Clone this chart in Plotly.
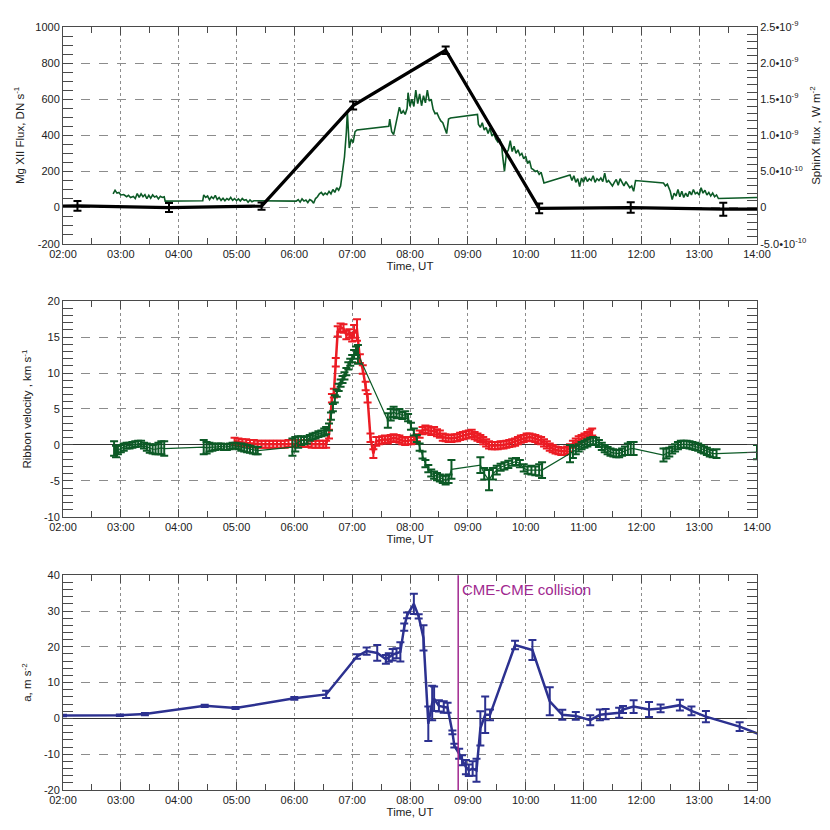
import plotly.graph_objects as go

DATE = "2000-01-01"

# ---------------- tick labels ----------------
hour_labels = ["02:00", "03:00", "04:00", "05:00", "06:00", "07:00", "08:00",
               "09:00", "10:00", "11:00", "12:00", "13:00", "14:00"]
mg_tick_vals = [-200, 0, 200, 400, 600, 800, 1000]
mg_tick_text = ["-200", "0", "200", "400", "600", "800", "1000"]
sx_tick_vals = [-5, 0, 5, 10, 15, 20, 25]          # units of 1e-10 W m^-2
sx_tick_text = ["-5.0\u202210<sup>-10</sup>", "0", "5.0\u202210<sup>-10</sup>",
                "1.0\u202210<sup>-9</sup>", "1.5\u202210<sup>-9</sup>",
                "2.0\u202210<sup>-9</sup>", "2.5\u202210<sup>-9</sup>"]
vel_tick_vals = [-10, -5, 0, 5, 10, 15, 20]
vel_tick_text = ["-10", "-5", "0", "5", "10", "15", "20"]
acc_tick_vals = [-20, -10, 0, 10, 20, 30, 40]
acc_tick_text = ["-20", "-10", "0", "10", "20", "30", "40"]

# ---------------- panel 1: SphinX flux (1e-10 W m^-2) ----------------
sphinx_time = [
    "02:52", "02:54", "02:56", "02:58", "03:00", "03:03", "03:06", "03:08", "03:10", "03:13",
    "03:15", "03:17", "03:19", "03:21", "03:23", "03:25", "03:27", "03:29", "03:31", "03:33",
    "03:35", "03:37", "03:39", "03:41", "03:43", "03:45", "03:46",
    "04:25", "04:26", "04:28", "04:30", "04:32", "04:34", "04:36", "04:38", "04:40", "04:42",
    "04:44", "04:46", "04:48", "04:50", "04:52", "04:54", "04:56", "04:58", "05:00", "05:02",
    "05:04", "05:06", "05:08", "05:10", "05:12", "05:14", "05:16", "05:18",
    "06:02", "06:04", "06:06", "06:08", "06:10", "06:12", "06:14", "06:16", "06:18", "06:20",
    "06:22", "06:24", "06:26", "06:28", "06:30", "06:32", "06:34", "06:36", "06:38", "06:40",
    "06:42", "06:44", "06:46", "06:48", "06:50", "06:52", "06:54", "06:55", "06:57", "06:59",
    "07:01", "07:03", "07:05",
    "07:38", "07:39", "07:41", "07:43", "07:45", "07:47", "07:49", "07:51", "07:53", "07:55",
    "07:57", "07:58", "08:00", "08:02", "08:04", "08:06", "08:08", "08:10", "08:12", "08:14",
    "08:16", "08:18", "08:20", "08:22", "08:24", "08:26", "08:28", "08:30", "08:32", "08:34",
    "08:36", "08:38", "08:40", "08:42",
    "09:10", "09:11", "09:13", "09:15", "09:17", "09:19", "09:21", "09:23", "09:25", "09:27",
    "09:29", "09:31", "09:33", "09:35", "09:36", "09:38", "09:40", "09:42", "09:44", "09:46",
    "09:48", "09:50", "09:52", "09:54", "09:56", "09:58", "10:00", "10:02", "10:04", "10:06",
    "10:08", "10:10", "10:12", "10:14", "10:16", "10:19",
    "10:46", "10:48", "10:50", "10:52", "10:54", "10:56", "10:58", "11:00", "11:02", "11:04",
    "11:06", "11:08", "11:10", "11:12", "11:14", "11:16", "11:18", "11:20", "11:22", "11:24",
    "11:26", "11:28", "11:30", "11:32", "11:34", "11:36", "11:38", "11:40", "11:42", "11:44",
    "11:46", "11:48", "11:50", "11:52", "11:54",
    "12:23", "12:25", "12:27", "12:30", "12:32", "12:34", "12:36", "12:38", "12:40", "12:42",
    "12:44", "12:46", "12:48", "12:50", "12:52", "12:54", "12:56", "12:58", "13:00", "13:02",
    "13:04", "13:06", "13:08", "13:10", "13:12", "13:14", "13:16", "13:18", "13:20",
    "14:00"]
sphinx_flux = [
    1.9, 2.4, 2.0, 2.1, 1.75, 1.8, 1.5, 1.7, 1.4, 1.55,
    1.25, 1.95, 1.4, 1.9, 1.5, 1.8, 1.25, 1.7, 1.3, 1.75,
    1.45, 1.6, 1.2, 1.55, 1.4, 1.5, 0.9,
    0.95, 1.75, 1.4, 1.6, 1.1, 1.5, 1.25, 1.7, 1.1, 1.4,
    1.0, 1.3, 0.95, 1.25, 1.05, 1.4, 1.0, 1.25, 0.95, 1.2,
    0.9, 1.25, 1.0, 1.1, 0.75, 1.05, 0.8, 0.95,
    0.9, 1.1, 0.75, 1.2, 0.9, 1.05, 0.7, 1.1, 0.95, 0.6,
    1.25, 1.5, 1.9, 2.1, 1.75, 2.0, 1.8, 2.25, 1.9, 2.5,
    2.1, 2.75, 2.4, 3.0, 5.0, 7.0, 10.5, 13.25, 8.25, 9.5,
    9.0, 10.5, 10.75,
    11.25, 12.25, 10.5, 10.1, 11.25, 12.5, 13.9, 13.0, 13.4, 12.9,
    13.75, 15.9, 14.0, 15.0, 14.0, 16.25, 14.4, 15.75, 14.1, 15.5,
    14.5, 16.25, 14.75, 15.0, 13.6, 13.0, 13.1, 12.5, 12.0, 11.75,
    11.0, 10.25, 12.25, 12.4,
    12.9, 11.5, 11.1, 11.75, 10.75, 11.1, 10.25, 11.0, 9.9, 10.25,
    9.5, 9.1, 9.5, 8.75, 7.25, 5.0, 7.5, 8.0, 9.25, 7.75,
    8.5, 7.5, 8.0, 7.25, 7.5, 6.75, 7.1, 6.1, 6.5, 5.4,
    5.25, 5.0, 5.1, 4.6, 4.9, 3.4,
    4.5, 3.75, 4.4, 3.5, 4.0, 2.9, 4.1, 3.5, 4.25, 3.6,
    4.0, 3.75, 4.4, 3.5, 4.0, 3.75, 4.1, 3.6, 4.75, 3.5,
    3.75, 3.4, 3.0, 3.5, 3.9, 3.1, 4.0, 3.5, 3.0, 3.6,
    3.25, 2.75, 3.0, 2.25, 3.75,
    3.4, 3.0, 3.25, 2.25, 1.1, 2.0, 1.6, 2.5, 1.5, 2.25,
    1.4, 2.0, 1.5, 2.25, 1.75, 2.5, 1.9, 2.1, 1.75, 2.75,
    2.0, 2.4, 1.75, 2.1, 1.6, 2.0, 1.5, 1.75, 1.25,
    1.4]

# ---------------- panel 1: Mg XII flux (DN s^-1) ----------------
mg_time = ["00:39", "02:15", "03:50", "05:26", "07:01", "08:37", "10:14", "11:49", "13:25", "15:00"]
mg_flux = [0, 9, 0, 8, 565, 871, -4, 0, -9, -8]
mg_err = [25, 27, 25, 20, 22, 21, 27, 29, 36, 30]

# ---------------- panel 2: ribbon velocities (km s^-1) ----------------
red_time = [
    "04:58", "05:02", "05:06", "05:10", "05:14", "05:18", "05:22", "05:26", "05:30", "05:34",
    "05:38", "05:42", "05:46", "05:50", "05:54", "05:58", "06:02", "06:06", "06:10", "06:14",
    "06:18", "06:22", "06:26", "06:30", "06:33", "06:36", "06:39", "06:41", "06:43", "06:45",
    "06:48", "06:51", "06:54", "06:57", "07:00", "07:02", "07:05", "07:08", "07:11", "07:14",
    "07:16", "07:19", "07:22", "07:25", "07:28", "07:31", "07:34", "07:37", "07:40", "07:43",
    "07:46", "07:49", "07:52", "07:55", "07:58", "08:01", "08:04", "08:07", "08:10", "08:13",
    "08:16", "08:19", "08:22", "08:25", "08:28", "08:31", "08:34", "08:37", "08:40", "08:43",
    "08:46", "08:49", "08:52", "08:55", "08:58", "09:01", "09:04", "09:07", "09:10", "09:13",
    "09:16", "09:19", "09:22", "09:25", "09:28", "09:31", "09:34", "09:37", "09:40", "09:43",
    "09:46", "09:49", "09:52", "09:55", "09:58", "10:01", "10:04", "10:07", "10:10", "10:13",
    "10:16", "10:19", "10:22", "10:25", "10:28", "10:31", "10:34", "10:37", "10:40", "10:43",
    "10:46", "10:49", "10:52", "10:55", "10:58", "11:01", "11:04", "11:07", "11:09"]
red_vel = [
    0.5, 0.4, 0.3, 0.3, 0.2, 0.2, 0.1, 0.1, 0.1, 0.1,
    0.1, 0.1, 0.1, 0.1, 0.2, 0.2, 0.2, 0.2, 0.2, 0.2,
    0.1, 0.1, 0.1, 0.1, 0.1, 1.5, 6.5, 7.2, 11.5, 15.8,
    16.3, 16.2, 15.3, 15.5, 15.0, 15.8, 16.0, 12.0, 10.5, 8.2,
    6.5, 1.0, -1.2, 0.5, 0.6, 0.7, 0.8, 0.7, 0.9, 1.0,
    0.9, 0.8, 0.6, 0.5, 0.6, 0.6, 0.7, 1.0, 1.5, 2.0,
    2.2, 2.1, 1.9, 2.0, 1.7, 1.5, 1.1, 1.0, 0.9, 0.9,
    1.0, 1.0, 1.2, 1.3, 1.4, 1.5, 1.6, 1.3, 1.1, 0.9,
    0.6, 0.3, 0.0, -0.1, -0.1, -0.1, 0.0, 0.0, 0.1, 0.2,
    0.3, 0.4, 0.6, 0.8, 0.9, 1.1, 1.1, 1.0, 0.9, 0.7,
    0.6, 0.3, 0.0, -0.3, -0.5, -0.7, -0.8, -0.9, -0.9, -0.7,
    -0.4, 0.1, 0.4, 0.7, 0.9, 1.1, 1.3, 1.6, 1.8]
red_err = [
    0.5, 0.5, 0.5, 0.5, 0.5, 0.5, 0.5, 0.5, 0.5, 0.5,
    0.5, 0.5, 0.5, 0.5, 0.5, 0.5, 0.5, 0.5, 0.5, 0.5,
    0.5, 0.5, 0.5, 0.5, 0.5, 0.6, 0.6, 0.6, 0.6, 0.7,
    0.6, 0.6, 0.6, 0.6, 0.6, 0.9, 1.5, 0.6, 0.6, 0.6,
    0.6, 0.6, 0.6, 0.6, 0.5, 0.5, 0.5, 0.5, 0.5, 0.5,
    0.5, 0.5, 0.5, 0.5, 0.5, 0.5, 0.5, 0.5, 0.5, 0.5,
    0.5, 0.5, 0.5, 0.5, 0.5, 0.5, 0.5, 0.5, 0.5, 0.5,
    0.5, 0.5, 0.5, 0.5, 0.5, 0.5, 0.5, 0.5, 0.5, 0.5,
    0.5, 0.5, 0.5, 0.5, 0.5, 0.5, 0.5, 0.5, 0.5, 0.5,
    0.5, 0.5, 0.5, 0.5, 0.5, 0.5, 0.5, 0.5, 0.5, 0.5,
    0.5, 0.5, 0.5, 0.5, 0.5, 0.5, 0.5, 0.5, 0.5, 0.5,
    0.5, 0.5, 0.5, 0.5, 0.5, 0.5, 0.5, 0.5, 0.5]

green_time = [
    "02:53", "02:55", "02:57", "03:00", "03:03", "03:06", "03:09", "03:12", "03:15", "03:18",
    "03:21", "03:24", "03:27", "03:30", "03:33", "03:36", "03:39", "03:42", "03:45",
    "04:26", "04:29", "04:32", "04:35", "04:38", "04:41", "04:44", "04:47", "04:50", "04:53",
    "04:56", "04:59", "05:02", "05:05", "05:08", "05:11", "05:14", "05:17", "05:20", "05:22",
    "05:58", "06:01", "06:04", "06:07", "06:10", "06:13", "06:16", "06:19", "06:22", "06:25",
    "06:28", "06:31", "06:33", "06:36", "06:38", "06:40", "06:42", "06:44", "06:46", "06:48",
    "06:50", "06:52", "06:54", "06:56", "06:58", "07:00", "07:02", "07:04", "07:06",
    "07:37", "07:40", "07:43", "07:46", "07:49", "07:52", "07:55", "07:58", "08:01", "08:04",
    "08:07", "08:10", "08:13", "08:16", "08:19", "08:22", "08:25", "08:28", "08:31", "08:34",
    "08:37", "08:40", "08:43",
    "09:13", "09:17", "09:22", "09:26", "09:30", "09:34", "09:38", "09:42", "09:46", "09:50",
    "09:54", "09:58", "10:02", "10:06", "10:10", "10:14", "10:17",
    "10:46", "10:49", "10:52", "10:55", "10:58", "11:01", "11:04", "11:07", "11:10", "11:13",
    "11:16", "11:19", "11:22", "11:25", "11:28", "11:31", "11:34", "11:37", "11:40", "11:43",
    "11:46", "11:49", "11:52",
    "12:23", "12:26", "12:29", "12:32", "12:35", "12:38", "12:41", "12:44", "12:47", "12:50",
    "12:53", "12:56", "12:59", "13:02", "13:05", "13:08", "13:11", "13:14", "13:18",
    "14:00"]
green_vel = [
    -0.5, -0.9, -0.7, -0.5, -0.3, -0.1, -0.1, 0.0, 0.1, 0.2,
    0.2, -0.1, -0.3, -0.5, -0.6, -0.6, -0.5, -0.4, -0.5,
    -0.3, -0.4, -0.3, -0.3, -0.3, -0.2, -0.2, -0.3, -0.3, -0.2,
    -0.1, -0.1, -0.2, -0.3, -0.4, -0.5, -0.6, -0.7, -0.8, -0.8,
    -0.3, 0.1, 0.4, 0.6, 0.6, 0.7, 1.0, 1.2, 1.3, 1.5,
    1.6, 1.8, 2.0, 2.5, 4.0, 5.2, 6.4, 7.2, 8.0, 8.6,
    9.1, 9.6, 10.2, 11.0, 11.5, 12.0, 12.6, 13.1, 12.6,
    3.4, 4.2, 4.6, 4.3, 4.4, 4.1, 4.2, 3.8, 2.6, 1.8,
    0.9, -0.3, -1.4, -2.6, -3.3, -3.9, -4.2, -4.4, -4.6, -4.8,
    -4.9, -4.7, -3.4,
    -2.8, -4.0, -4.9, -4.0, -3.5, -3.1, -2.9, -2.7, -2.4, -2.3,
    -2.6, -3.2, -3.5, -3.5, -3.6, -3.5, -3.5,
    -1.2, -1.0, -0.7, -0.4, -0.1, 0.1, 0.3, 0.5, 0.6, 0.5,
    0.2, -0.2, -0.5, -0.8, -1.0, -1.1, -1.2, -1.2, -1.0, -0.8,
    -0.6, -0.5, -0.5,
    -1.4, -1.2, -1.0, -0.7, -0.4, -0.1, 0.1, 0.1, 0.1, 0.0,
    -0.1, -0.2, -0.3, -0.5, -0.7, -0.9, -1.1, -1.2, -1.2,
    -1.0]
green_err = [
    1.0, 0.8, 0.6, 0.5, 0.5, 0.4, 0.4, 0.4, 0.4, 0.4,
    0.4, 0.4, 0.5, 0.6, 0.6, 0.7, 0.8, 0.9, 1.0,
    1.0, 0.8, 0.6, 0.5, 0.4, 0.4, 0.4, 0.4, 0.4, 0.4,
    0.4, 0.4, 0.4, 0.5, 0.5, 0.5, 0.5, 0.5, 0.5, 0.5,
    1.2, 1.0, 0.8, 0.6, 0.5, 0.5, 0.4, 0.4, 0.4, 0.4,
    0.4, 0.5, 0.5, 0.5, 0.5, 0.5, 0.5, 0.5, 0.5, 0.5,
    0.5, 0.5, 0.5, 0.5, 0.5, 0.5, 0.6, 0.6, 1.3,
    1.0, 0.8, 0.7, 0.6, 0.6, 0.5, 0.5, 0.5, 0.5, 0.5,
    0.5, 0.5, 0.5, 0.5, 0.5, 0.5, 0.5, 0.5, 0.5, 0.5,
    0.6, 0.6, 1.3,
    1.1, 0.8, 1.4, 0.8, 0.6, 0.5, 0.5, 0.5, 0.5, 0.5,
    0.5, 0.5, 0.5, 0.6, 0.6, 0.8, 1.1,
    1.2, 0.8, 0.6, 0.5, 0.5, 0.5, 0.5, 0.5, 0.5, 0.5,
    0.5, 0.5, 0.5, 0.5, 0.5, 0.5, 0.5, 0.5, 0.5, 0.6,
    0.8, 0.9, 0.9,
    0.9, 0.7, 0.6, 0.5, 0.5, 0.5, 0.5, 0.5, 0.5, 0.5,
    0.5, 0.5, 0.5, 0.5, 0.5, 0.5, 0.5, 0.5, 0.6,
    1.0]

# ---------------- panel 3: CME acceleration (m s^-2) ----------------
acc_time = [
    "02:00", "02:59", "03:25", "04:27", "04:59", "06:00", "06:33", "07:05", "07:15", "07:26",
    "07:35", "07:38", "07:42", "07:46", "07:50", "07:54", "07:57", "08:04", "08:09", "08:14",
    "08:19", "08:23", "08:25", "08:30", "08:35", "08:39", "08:44", "08:46", "08:51", "08:54",
    "08:58", "09:01", "09:05", "09:09", "09:13", "09:18", "09:23", "09:49", "10:07", "10:25",
    "10:38", "10:52", "11:07", "11:17", "11:23", "11:37", "11:41", "11:52", "12:08", "12:20",
    "12:40", "12:52", "13:07", "13:42", "14:10"]
acc_val = [
    0.8, 0.9, 1.2, 3.5, 2.9, 5.6, 6.7, 17.3, 18.8, 18.3,
    16.5, 17.0, 17.8, 18.2, 18.6, 25.5, 28.8, 32.0, 28.5, 22.5,
    -1.5, 4.3, 5.5, 3.5, 3.2, 3.0, -3.9, -7.6, -9.9, -11.7,
    -13.6, -14.5, -14.0, -14.5, -2.8, 1.0, 1.0, 20.5, 19.1, 4.8,
    1.0, 0.7, -0.5, 1.0, 1.2, 1.6, 2.5, 3.3, 2.5, 2.8,
    3.7, 2.1, 0.5, -2.3, -5.2]
acc_err = [
    0.2, 0.2, 0.3, 0.3, 0.3, 0.4, 1.0, 0.6, 1.0, 2.2,
    1.2, 1.2, 1.6, 1.4, 2.7, 1.0, 0.8, 2.8, 0.6, 3.5,
    4.8, 4.8, 3.4, 1.6, 1.6, 1.4, 0.5, 0.5, 1.4, 1.4,
    2.0, 1.6, 2.0, 3.2, 4.8, 5.1, 1.5, 1.2, 2.8, 3.9,
    1.4, 1.1, 1.4, 1.5, 1.4, 1.4, 1.0, 1.8, 2.1, 1.1,
    1.5, 1.2, 1.6, 1.2, 1.2]

collision_time = "08:50"
collision_label = "CME-CME collision"


def d(t):
    return f"{DATE} {t}:00"


def dl(ts):
    return [d(t) for t in ts]


FONT = "Liberation Sans, Arial, Helvetica, sans-serif"
AXC = "#4a4a4a"
GRIDC = "#8c8c8c"
TXT = "#222222"
GREEN = "#0c5a26"
RED = "#ec1c24"
BLUE = "#2c3190"
PURPLE = "#a0288f"

fig = go.Figure()

# panel 1
fig.add_trace(go.Scatter(x=dl(sphinx_time), y=sphinx_flux, xaxis="x", yaxis="y",
                         mode="lines", line=dict(color=GREEN, width=1.6)))
fig.add_trace(go.Scatter(x=dl(mg_time), y=mg_flux, xaxis="x", yaxis="y2",
                         mode="lines", line=dict(color="black", width=3.2),
                         error_y=dict(type="data", array=mg_err, color="black",
                                      thickness=2, width=4)))
# panel 2
fig.add_trace(go.Scatter(x=dl(red_time), y=red_vel, xaxis="x2", yaxis="y3",
                         mode="lines", line=dict(color=RED, width=2.5),
                         error_y=dict(type="data", array=red_err, color=RED,
                                      thickness=2, width=4)))
fig.add_trace(go.Scatter(x=dl(green_time), y=green_vel, xaxis="x2", yaxis="y3",
                         mode="lines", line=dict(color=GREEN, width=1.2),
                         error_y=dict(type="data", array=green_err, color=GREEN,
                                      thickness=2, width=4)))
# panel 3
fig.add_trace(go.Scatter(x=dl(acc_time), y=acc_val, xaxis="x3", yaxis="y4",
                         mode="lines", line=dict(color=BLUE, width=2.5),
                         error_y=dict(type="data", array=acc_err, color=BLUE,
                                      thickness=2, width=4)))

tickfont = dict(family=FONT, size=11, color=TXT)
titlefont = dict(family=FONT, size=11.5, color=TXT)


def xaxis_cfg(anchor):
    return dict(
        type="date", anchor=anchor, domain=[0, 1],
        range=[d("02:00"), d("14:00")],
        tickmode="array", tickvals=dl(hour_labels), ticktext=hour_labels,
        ticks="inside", ticklen=8, tickcolor=AXC, tickwidth=1,
        showline=True, linecolor=AXC, linewidth=1, mirror="ticks",
        showgrid=True, gridcolor=GRIDC, griddash="dot", gridwidth=1,
        zeroline=False,
        minor=dict(ticks="inside", ticklen=6, tickcolor=AXC, dtick=1800000,
                   tick0=d("02:00"), showgrid=False),
        tickfont=tickfont,
        title=dict(text="Time, UT", font=titlefont, standoff=0),
    )


def yaxis_cfg(anchor, domain, rng, vals, text, minor_dtick, title, zero=True,
              mirror="ticks", standoff=8):
    return dict(
        anchor=anchor, domain=domain, range=rng,
        tickmode="array", tickvals=vals, ticktext=text,
        ticks="inside", ticklen=10, tickcolor=AXC, tickwidth=1,
        showline=True, linecolor=AXC, linewidth=1, mirror=mirror,
        showgrid=True, gridcolor=GRIDC, griddash="dash", gridwidth=1,
        zeroline=zero, zerolinecolor="#333333", zerolinewidth=1,
        minor=dict(ticks="inside", ticklen=10, tickcolor=AXC, dtick=minor_dtick,
                   tick0=0, showgrid=False),
        tickfont=tickfont,
        title=dict(text=title, font=titlefont, standoff=standoff),
    )


top_dom = [0.716, 1.0]
mid_dom = [0.358, 0.6407]
bot_dom = [0.0, 0.2815]

layout = dict(
    width=822, height=822,
    margin=dict(l=54, r=73, t=11, b=40),
    paper_bgcolor="white", plot_bgcolor="white",
    showlegend=False,
    font=dict(family=FONT, size=11, color=TXT),
    xaxis=xaxis_cfg("y"),
    xaxis2=xaxis_cfg("y3"),
    xaxis3=xaxis_cfg("y4"),
    yaxis=dict(
        anchor="x", domain=top_dom, side="right", range=[-5, 25],
        tickmode="array", tickvals=sx_tick_vals, ticktext=sx_tick_text,
        ticks="inside", ticklen=10, tickcolor=AXC,
        showline=True, linecolor=AXC, linewidth=1, mirror=False,
        showgrid=True, gridcolor=GRIDC, griddash="dash", gridwidth=1, zeroline=False,
        minor=dict(ticks="inside", ticklen=10, tickcolor=AXC, dtick=1, tick0=0, showgrid=False),
        tickfont=tickfont,
    ),
    yaxis2=dict(
        anchor="x", overlaying="y", side="left", range=[-200, 1000],
        tickmode="array", tickvals=mg_tick_vals, ticktext=mg_tick_text,
        ticks="inside", ticklen=10, tickcolor=AXC,
        showline=True, linecolor=AXC, linewidth=1, mirror=False,
        showgrid=False, zeroline=False,
        minor=dict(ticks="inside", ticklen=10, tickcolor=AXC, dtick=50, tick0=0, showgrid=False),
        tickfont=tickfont,
        title=dict(text="Mg XII Flux, DN s<sup>-1</sup>", font=titlefont, standoff=8),
    ),
    yaxis3=yaxis_cfg("x2", mid_dom, [-10, 20], vel_tick_vals, vel_tick_text, 1,
                     "Ribbon velocity , km s<sup>-1</sup>", standoff=9),
    yaxis4=yaxis_cfg("x3", bot_dom, [-20, 40], acc_tick_vals, acc_tick_text, 2,
                     "a, m s<sup>-2</sup>", standoff=9),
    shapes=[dict(type="line", xref="x3", yref="y4 domain",
                 x0=d(collision_time), x1=d(collision_time), y0=0, y1=1,
                 line=dict(color=PURPLE, width=1.5))],
    annotations=[
        dict(text=collision_label, xref="x3", yref="y4 domain",
             x=d(collision_time), y=0.935, xanchor="left", yanchor="middle",
             xshift=2, showarrow=False,
             font=dict(family=FONT, size=15, color=PURPLE)),
        dict(text="SphinX flux , W m<sup>-2</sup>", xref="paper", yref="paper",
             x=1.0835, y=0.8586, xanchor="center", yanchor="middle",
             textangle=-90, showarrow=False, font=titlefont),
    ],
)
fig.update_layout(**layout)

fig.write_html("out.html")
